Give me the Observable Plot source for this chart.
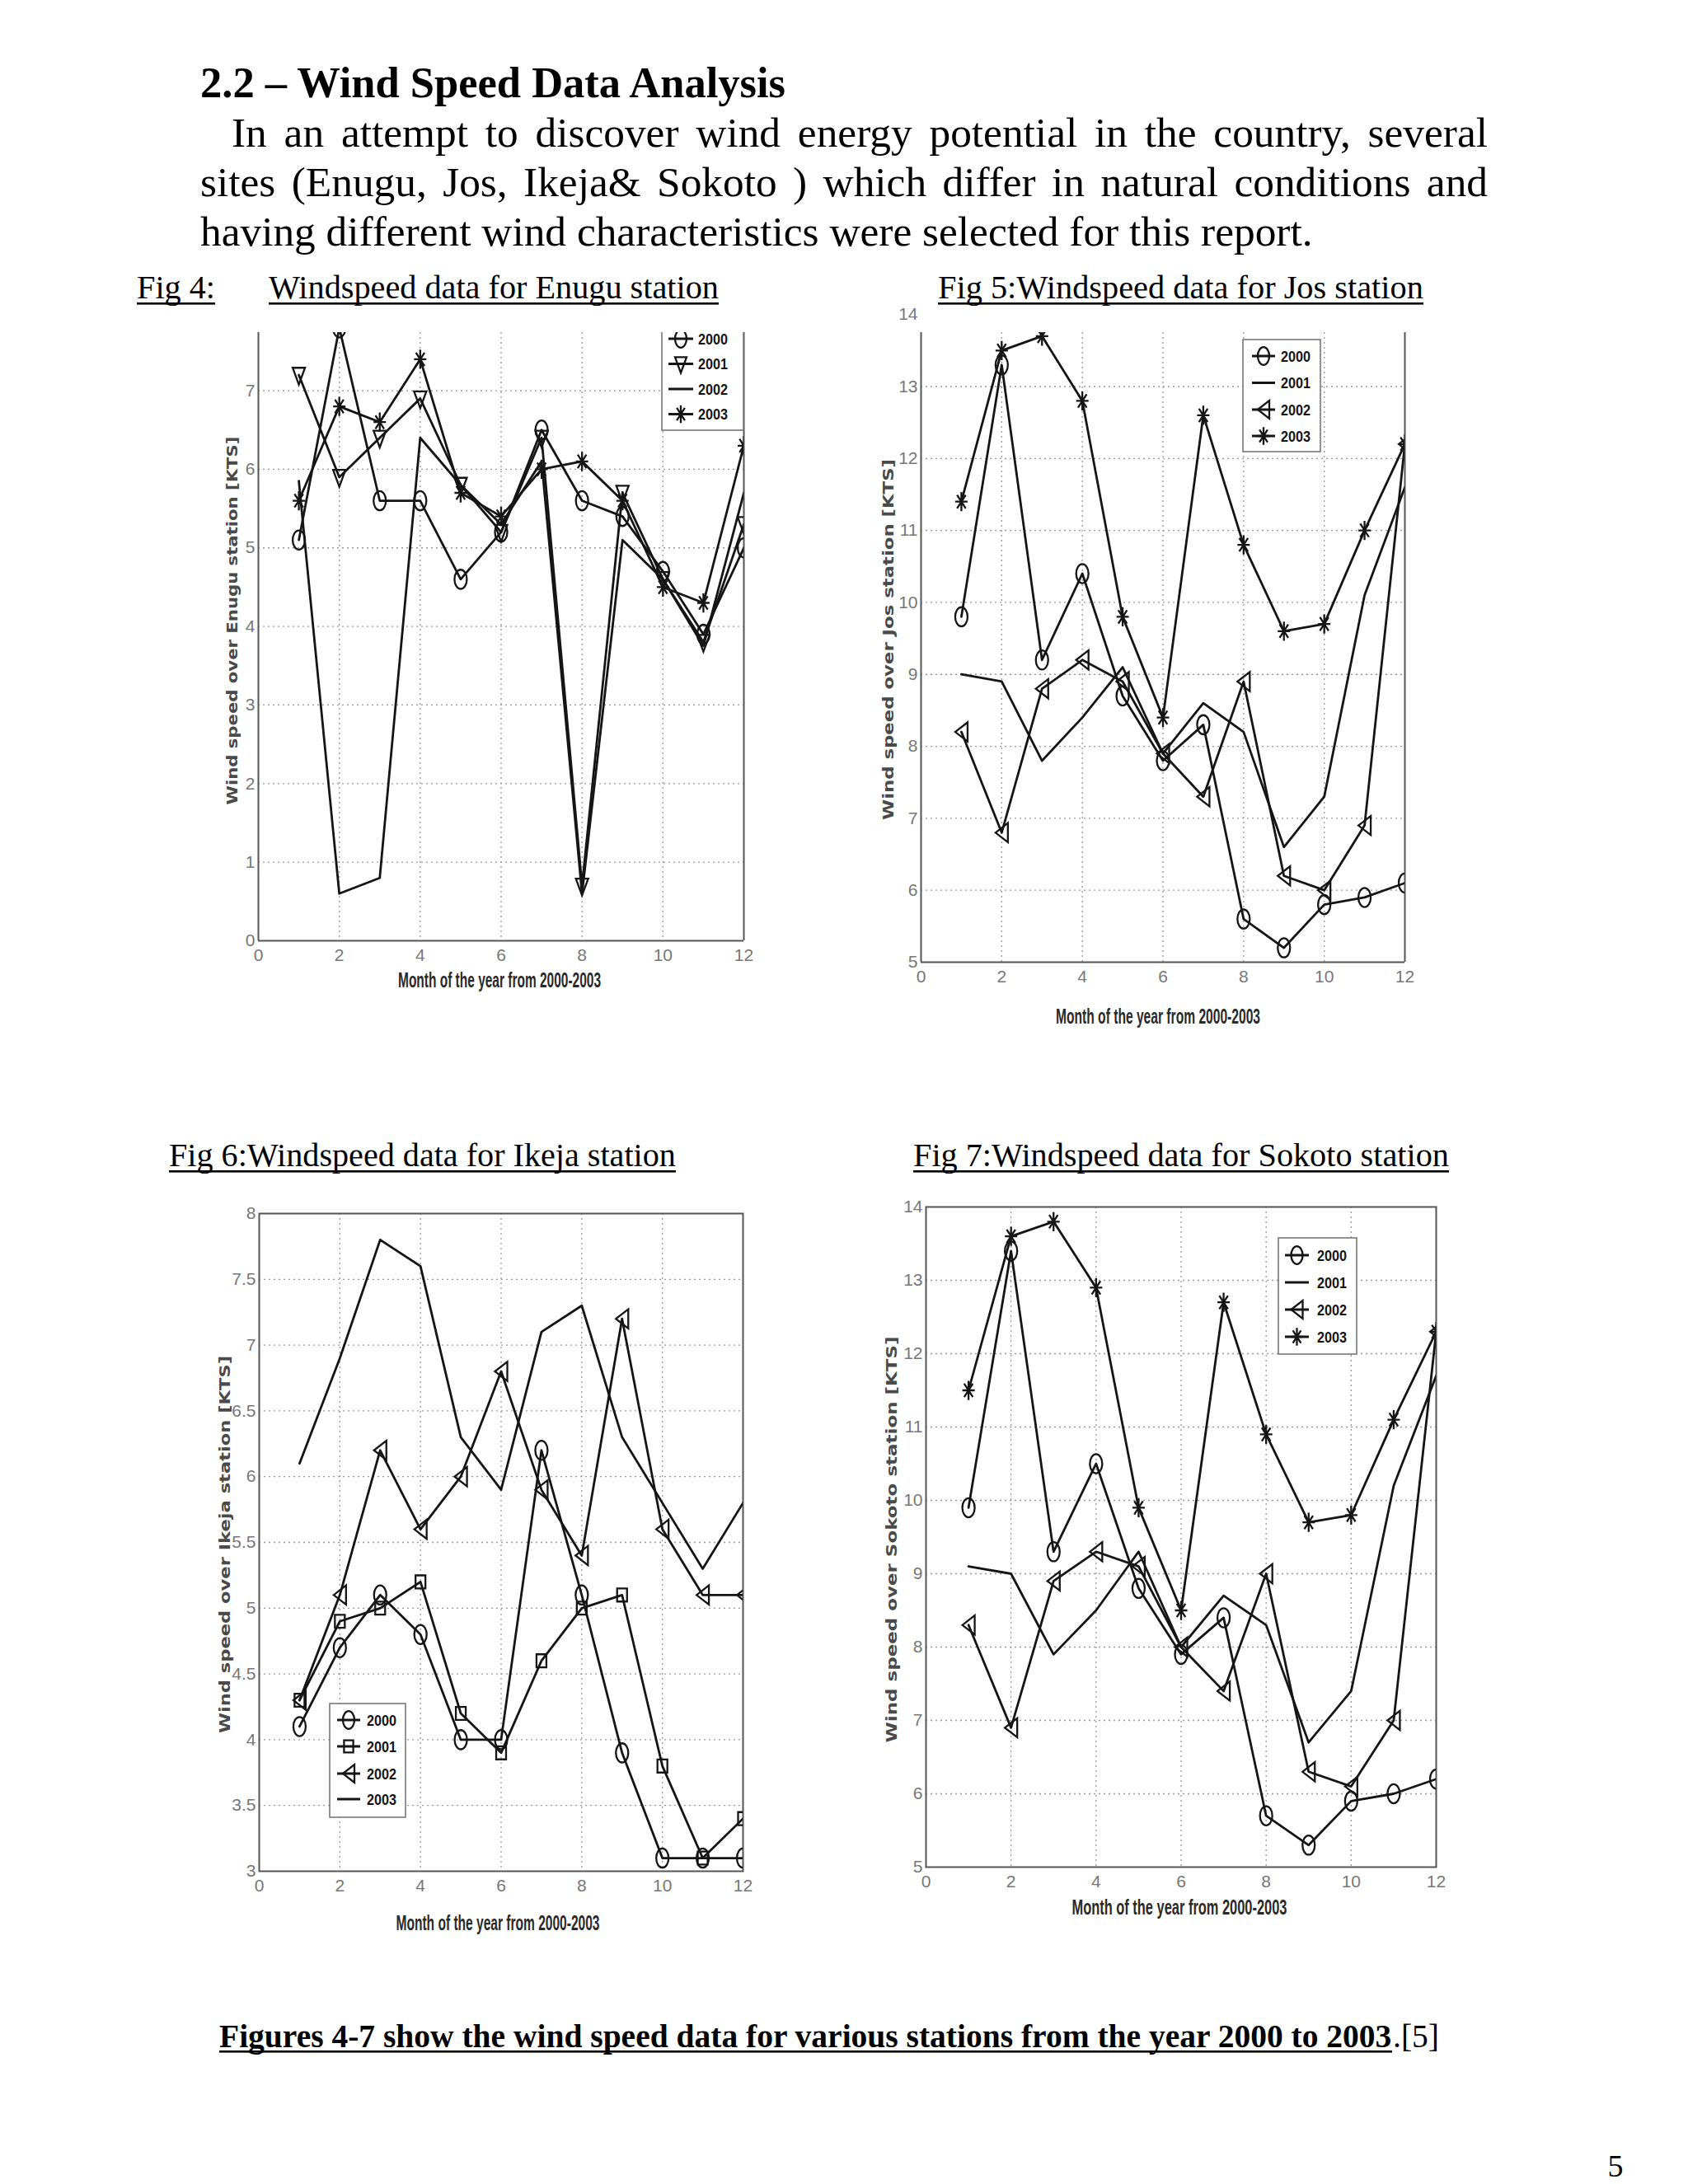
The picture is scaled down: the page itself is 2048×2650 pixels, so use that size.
<!DOCTYPE html>
<html><head><meta charset="utf-8">
<script src="https://cdn.jsdelivr.net/npm/d3@7"></script>
<script src="https://cdn.jsdelivr.net/npm/@observablehq/plot@0.6"></script>
<style>
html,body{margin:0;padding:0;background:#fff;}
#page{position:relative;width:2048px;height:2650px;background:#fff;overflow:hidden;}
.chart{position:absolute;}
#overlay{position:absolute;left:0;top:0;pointer-events:none;}
</style></head>
<body><div id="page"></div>
<script>
// ---------- data ----------
const months = [1,2,3,4,5,6,7,8,9,10,11,12];
const xDomain = [0, 12];
const xTicks = [0,2,4,6,8,10,12];
const xGrid = [2,4,6,8,10];
const years = ["2000","2001","2002","2003"];

const enugu2000 = [5.1,7.8,5.6,5.6,4.6,5.2,6.5,5.6,5.4,4.7,3.9,5.0];
const enugu2001 = [7.2,5.9,6.4,6.9,5.8,5.2,6.4,0.7,5.7,4.6,3.8,5.3];
const enugu2002 = [5.85,0.6,0.8,6.4,5.8,5.3,6.1,0.6,5.1,4.6,3.75,5.7];
const enugu2003 = [5.6,6.8,6.6,7.4,5.7,5.4,6.0,6.1,5.6,4.5,4.3,6.3];
const enuguYDomain = [0, 7.74];
const enuguYTicks = [0,1,2,3,4,5,6,7];
const enuguYGrid = [1,2,3,4,5,6,7];

const jos2000 = [9.8,13.3,9.2,10.4,8.7,7.8,8.3,5.6,5.2,5.8,5.9,6.1];
const jos2001 = [9.0,8.9,7.8,8.4,9.1,7.9,8.6,8.2,6.6,7.3,10.1,11.6];
const jos2002 = [8.2,6.8,8.8,9.2,8.9,7.9,7.3,8.9,6.2,6.0,6.9,12.2];
const jos2003 = [11.4,13.5,13.7,12.8,9.8,8.4,12.6,10.8,9.6,9.7,11.0,12.2];
const josYDomain = [5, 13.75];
const josYTicks = [5,6,7,8,9,10,11,12,13,14];
const josYGrid = [6,7,8,9,10,11,12,13];

const ikeja2000 = [4.1,4.7,5.1,4.8,4.0,4.0,6.2,5.1,3.9,3.1,3.1,3.1];
const ikeja2001 = [4.3,4.9,5.0,5.2,4.2,3.9,4.6,5.0,5.1,3.8,3.1,3.4];
const ikeja2002 = [4.3,5.1,6.2,5.6,6.0,6.8,5.9,5.4,7.2,5.6,5.1,5.1];
const ikeja2003 = [6.1,6.9,7.8,7.6,6.3,5.9,7.1,7.3,6.3,5.8,5.3,5.8];
const ikejaYDomain = [3, 8];
const ikejaYTicks = [3,3.5,4,4.5,5,5.5,6,6.5,7,7.5,8];
const ikejaYGrid = [3.5,4,4.5,5,5.5,6,6.5,7,7.5];

const sokoto2000 = [9.9,13.4,9.3,10.5,8.8,7.9,8.4,5.7,5.3,5.9,6.0,6.2];
const sokoto2001 = [9.1,9.0,7.9,8.5,9.3,8.0,8.7,8.3,6.7,7.4,10.2,11.7];
const sokoto2002 = [8.3,6.9,8.9,9.3,9.1,8.0,7.4,9.0,6.3,6.1,7.0,12.3];
const sokoto2003 = [11.5,13.6,13.8,12.9,9.9,8.5,12.7,10.9,9.7,9.8,11.1,12.3];
const sokotoYDomain = [5, 14];
const sokotoYTicks = [5,6,7,8,9,10,11,12,13,14];
const sokotoYGrid = [6,7,8,9,10,11,12,13];

const xLabel = "Month of the year from 2000-2003";

// ---------- marker symbols (MATLAB-like, stretched vertically) ----------
const K = 1.55;
const rOf = s => Math.sqrt(s / Math.PI);
const symCircle = {draw(c, s) { const r = rOf(s), ry = r * K, k = 0.5523;
  c.moveTo(r, 0); c.bezierCurveTo(r, ry*k, r*k, ry, 0, ry); c.bezierCurveTo(-r*k, ry, -r, ry*k, -r, 0);
  c.bezierCurveTo(-r, -ry*k, -r*k, -ry, 0, -ry); c.bezierCurveTo(r*k, -ry, r, -ry*k, r, 0); c.closePath(); }};
const symTriDown = {draw(c, s) { const r = rOf(s); c.moveTo(-r, -r*K*0.75); c.lineTo(r, -r*K*0.75); c.lineTo(0, r*K); c.closePath(); }};
const symTriLeft = {draw(c, s) { const r = rOf(s); c.moveTo(-r, 0); c.lineTo(r, -r*K); c.lineTo(r, r*K); c.closePath(); }};
const symSquare = {draw(c, s) { const r = rOf(s) * 0.8; c.rect(-r, -r*K*0.85, 2*r, 2*r*K*0.85); }};
const symStar = {draw(c, s) { const r = rOf(s), ry = r * K, a = 0.7;
  c.moveTo(0, -ry); c.lineTo(0, ry); c.moveTo(-r, 0); c.lineTo(r, 0);
  c.moveTo(-r*a, -ry*a); c.lineTo(r*a, ry*a); c.moveTo(-r*a, ry*a); c.lineTo(r*a, -ry*a); }};

const page = document.getElementById("page");
const narrow = "'Liberation Sans Narrow', 'Arial Narrow', 'Liberation Sans', sans-serif";
const INK = "#151515";

function buildChart(cfg) {
  const ml = 80, mr = 24, mt = 40, mb = 50;
  const w = cfg.R - cfg.L, h = cfg.B - cfg.T;
  const marks = [
    Plot.ruleX(xGrid, {stroke: "#9a9a9a", strokeDasharray: "2,4", strokeWidth: 1.3}),
    Plot.ruleY(cfg.yGrid, {stroke: "#9a9a9a", strokeDasharray: "2,4", strokeWidth: 1.3})
  ];
  if (cfg.fullFrame) marks.push(Plot.frame({stroke: "#555", strokeWidth: 2}));
  else {
    marks.push(Plot.ruleX(xDomain, {stroke: "#555", strokeWidth: 2}));
    marks.push(Plot.ruleY([cfg.yDomain[0]], {stroke: "#555", strokeWidth: 2}));
  }
  for (const s of cfg.series) {
    marks.push(Plot.line(s.values, {x: (d, i) => months[i], y: d => d, stroke: INK, strokeWidth: 2.8, clip: true}));
    if (s.symbol) marks.push(Plot.dot(s.values, {x: (d, i) => months[i], y: d => d, symbol: s.symbol, r: 7.5,
      stroke: INK, strokeWidth: 2.3, fill: "none", clip: true}));
  }
  const svg = Plot.plot({
    width: ml + w + mr, height: mt + h + mb,
    marginLeft: ml, marginRight: mr, marginTop: mt, marginBottom: mb,
    x: {domain: xDomain, ticks: xTicks, tickSize: 0, tickPadding: 10, label: null},
    y: {domain: cfg.yDomain, ticks: cfg.yTicks, tickSize: 0, tickPadding: 4, label: null, tickFormat: d => String(d)},
    style: {fontFamily: narrow, fontSize: "21px", color: "#777", background: "none", overflow: "visible"},
    marks
  });
  const div = document.createElement("div");
  div.className = "chart";
  div.style.left = (cfg.L - ml) + "px";
  div.style.top = (cfg.T - mt) + "px";
  div.appendChild(svg);
  page.appendChild(div);
}

buildChart({L: 313, R: 902, T: 403, B: 1141, yDomain: enuguYDomain, yTicks: enuguYTicks, yGrid: enuguYGrid, fullFrame: false,
  series: [{values: enugu2002, symbol: null}, {values: enugu2000, symbol: symCircle}, {values: enugu2001, symbol: symTriDown}, {values: enugu2003, symbol: symStar}]});
buildChart({L: 1117, R: 1704, T: 403, B: 1167, yDomain: josYDomain, yTicks: josYTicks, yGrid: josYGrid, fullFrame: false,
  series: [{values: jos2001, symbol: null}, {values: jos2000, symbol: symCircle}, {values: jos2002, symbol: symTriLeft}, {values: jos2003, symbol: symStar}]});
buildChart({L: 314, R: 901, T: 1472, B: 2270, yDomain: ikejaYDomain, yTicks: ikejaYTicks, yGrid: ikejaYGrid, fullFrame: true,
  series: [{values: ikeja2003, symbol: null}, {values: ikeja2000, symbol: symCircle}, {values: ikeja2001, symbol: symSquare}, {values: ikeja2002, symbol: symTriLeft}]});
buildChart({L: 1123, R: 1742, T: 1464, B: 2265, yDomain: sokotoYDomain, yTicks: sokotoYTicks, yGrid: sokotoYGrid, fullFrame: true,
  series: [{values: sokoto2001, symbol: null}, {values: sokoto2000, symbol: symCircle}, {values: sokoto2002, symbol: symTriLeft}, {values: sokoto2003, symbol: symStar}]});

// ---------- overlay: text, axis labels, legends ----------
const overlay = d3.select("#page").append("svg").attr("id", "overlay").attr("width", 2048).attr("height", 2650);
const defs = overlay.append("defs");

function addText(parent, txt, x, y, o) {
  const t = parent.append("text").attr("x", x).attr("y", y)
    .attr("font-size", o.size).attr("font-family", o.family || "'Liberation Serif', serif")
    .attr("font-weight", o.weight || "normal").attr("fill", o.fill || "#000")
    .attr("text-anchor", o.anchor || "start").text(txt);
  if (o.transform) t.attr("transform", o.transform);
  if (o.fit) {
    const w = t.node().getComputedTextLength();
    if (o.mode === "size") t.attr("font-size", o.size * o.fit / w);
    else if (o.mode === "words") { const n = (txt.match(/ /g) || []).length; t.attr("word-spacing", (o.fit - w) / n); }
    else t.attr("textLength", o.fit).attr("lengthAdjust", "spacingAndGlyphs");
  }
  return t;
}
function underline(x, w, y) { overlay.append("rect").attr("x", x).attr("y", y).attr("width", w).attr("height", 2.6).attr("fill", "#000"); }

// heading
addText(overlay, "2.2 – Wind Speed Data Analysis", 243, 118, {size: 48, weight: "bold", fit: 710, mode: "size"});
// paragraph
const probe = addText(overlay, "having different wind characteristics were selected for this report.", 243, 298, {size: 48, fit: 1350, mode: "size"});
const pSize = +probe.attr("font-size");
addText(overlay, "In an attempt to discover wind energy potential in the country, several", 281, 178, {size: pSize, fit: 1524, mode: "words"});
addText(overlay, "sites (Enugu, Jos, Ikeja& Sokoto ) which differ in natural conditions and", 243, 238, {size: pSize, fit: 1562, mode: "words"});

// figure captions
function caption(txt, x, w, y) { const t = addText(overlay, txt, x, y, {size: 38, fit: w, mode: "size"}); underline(x, w, y + 5); return t; }
const c4 = caption("Windspeed data for Enugu station", 326, 546, 362);
const f4 = addText(overlay, "Fig 4:", 166, 362, {size: +c4.attr("font-size")});
underline(166, f4.node().getComputedTextLength(), 367);
caption("Fig 5:Windspeed data for Jos station", 1138, 589, 362);
caption("Fig 6:Windspeed data for Ikeja station", 205, 615, 1415);
caption("Fig 7:Windspeed data for Sokoto station", 1108, 650, 1415);

// bottom caption
const bc = addText(overlay, "Figures 4-7 show the wind speed data for various stations from the year 2000 to 2003", 266, 2484, {size: 37, weight: "bold", fit: 1423, mode: "size"});
underline(266, 1423, 2488);
addText(overlay, ".[5]", 1690, 2484, {size: +bc.attr("font-size")});
// page number
addText(overlay, "5", 1960, 2641, {size: 38, anchor: "middle"});

// axis labels
const ySans = "'DejaVu Sans', Verdana, sans-serif";
function yLabel(txt, cx, cy, len) {
  addText(overlay, txt, 0, 0, {size: 17, weight: "bold", family: ySans, fill: "#4a4a4a", anchor: "middle",
    transform: `translate(${cx},${cy}) rotate(-90)`, fit: len}).attr("dy", "0.3em");
}
yLabel("Wind speed over Enugu station [KTS]", 283, 753, 447);
yLabel("Wind speed over Jos station [KTS]", 1079, 776, 438);
yLabel("Wind speed over Ikeja station [KTS]", 274, 1874, 458);
yLabel("Wind speed over Sokoto station [KTS]", 1083, 1868, 493);
function xLab(cx, by, len) { addText(overlay, xLabel, cx, by, {size: 25, weight: "bold", family: narrow, fill: "#2a2a2a", anchor: "middle", fit: len}); }
xLab(606, 1198, 246);
xLab(1405, 1242, 248);
xLab(604, 2342, 247);
xLab(1431, 2323, 261);

// legends
let clipN = 0;
function legend(cfg) {
  const grp = overlay.append("g");
  if (cfg.clip) {
    const id = "lgclip" + (clipN++);
    defs.append("clipPath").attr("id", id).append("rect")
      .attr("x", cfg.clip[0]).attr("y", cfg.clip[1]).attr("width", cfg.clip[2]).attr("height", cfg.clip[3]);
    grp.attr("clip-path", `url(#${id})`);
  }
  grp.append("rect").attr("x", cfg.x0).attr("y", cfg.y0).attr("width", cfg.x1 - cfg.x0).attr("height", cfg.y1 - cfg.y0)
    .attr("fill", "#fff").attr("stroke", "#777").attr("stroke-width", 1.6);
  cfg.symbols.forEach((sym, i) => {
    const y = cfg.ys[i];
    grp.append("line").attr("x1", cfg.lx0).attr("x2", cfg.lx1).attr("y1", y).attr("y2", y).attr("stroke", INK).attr("stroke-width", 3);
    if (sym) grp.append("path").attr("d", d3.symbol(sym, Math.PI * 49)()).attr("transform", `translate(${(cfg.lx0 + cfg.lx1) / 2},${y})`)
      .attr("fill", "none").attr("stroke", INK).attr("stroke-width", 2.3);
    addText(grp, years[i], cfg.tx, y + 6.5, {size: 18, weight: "bold", family: narrow, fill: INK, fit: 36});
  });
}
legend({x0: 803, x1: 902, y0: 386, y1: 522, ys: [411, 441.5, 472, 502.5], lx0: 811, lx1: 841, tx: 847,
  symbols: [symCircle, symTriDown, null, symStar], clip: [790, 403, 120, 140]});
legend({x0: 1508, x1: 1602, y0: 412, y1: 548, ys: [432, 464.5, 497, 529], lx0: 1519, lx1: 1547, tx: 1554,
  symbols: [symCircle, null, symTriLeft, symStar]});
legend({x0: 400, x1: 492, y0: 2067, y1: 2205, ys: [2087, 2119, 2152, 2183], lx0: 409, lx1: 437, tx: 445,
  symbols: [symCircle, symSquare, symTriLeft, null]});
legend({x0: 1551, x1: 1646, y0: 1502, y1: 1643, ys: [1523, 1556, 1589, 1622], lx0: 1559, lx1: 1588, tx: 1598,
  symbols: [symCircle, null, symTriLeft, symStar]});
</script>
</body></html>
